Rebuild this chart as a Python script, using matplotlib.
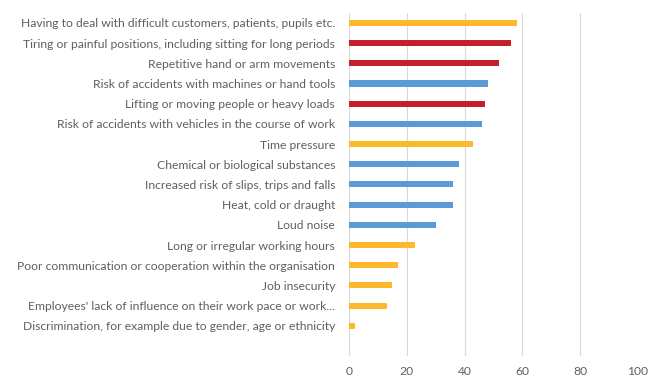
import numpy as np
import matplotlib.pyplot as plt

categories = [
    "Having to deal with difficult customers, patients, pupils etc.",
    "Tiring or painful positions, including sitting for long periods",
    "Repetitive hand or arm movements",
    "Risk of accidents with machines or hand tools",
    "Lifting or moving people or heavy loads",
    "Risk of accidents with vehicles in the course of work",
    "Time pressure",
    "Chemical or biological substances",
    "Increased risk of slips, trips and falls",
    "Heat, cold or draught",
    "Loud noise",
    "Long or irregular working hours",
    "Poor communication or cooperation within the organisation",
    "Job insecurity",
    "Employees' lack of influence on their work pace or work...",
    "Discrimination, for example due to gender, age or ethnicity",
]
values = [58, 56, 52, 48, 47, 46, 43, 38, 36, 36, 30, 23, 17, 15, 13, 2]
# risk group of each factor: psychosocial, musculoskeletal, physical
groups = ["psy", "msk", "msk", "phy", "msk", "phy", "psy", "phy",
          "phy", "phy", "phy", "psy", "psy", "psy", "psy", "psy"]
group_colors = {"psy": "#FDB92B", "msk": "#C3202B", "phy": "#5B9BD5"}
x_ticks = [0, 20, 40, 60, 80, 100]

plt.rcParams['font.family'] = ['Lato', 'DejaVu Sans']

fig = plt.figure(figsize=(6.51, 3.78), dpi=100)
ax = fig.add_axes([0.536, 0.058, 0.444, 0.908])

y = np.arange(len(categories))
ax.barh(y, values, height=0.3, color=[group_colors[g] for g in groups], zorder=3)

ax.set_xlim(0, 100)
# one empty slot left under the last bar
ax.set_ylim(len(categories) + 0.5, -0.5)
ax.set_xticks(x_ticks)
ax.set_yticks(y)
ax.set_yticklabels(categories)
ax.grid(axis='x', color='#D9D9D9', linewidth=0.8, zorder=0)
for s in ax.spines.values():
    s.set_visible(False)
ax.tick_params(axis='both', length=0, labelsize=8.7, labelcolor='#5F5F5F')
ax.tick_params(axis='y', pad=10)
ax.tick_params(axis='x', pad=7)

fig.savefig("out.png", dpi=100)
